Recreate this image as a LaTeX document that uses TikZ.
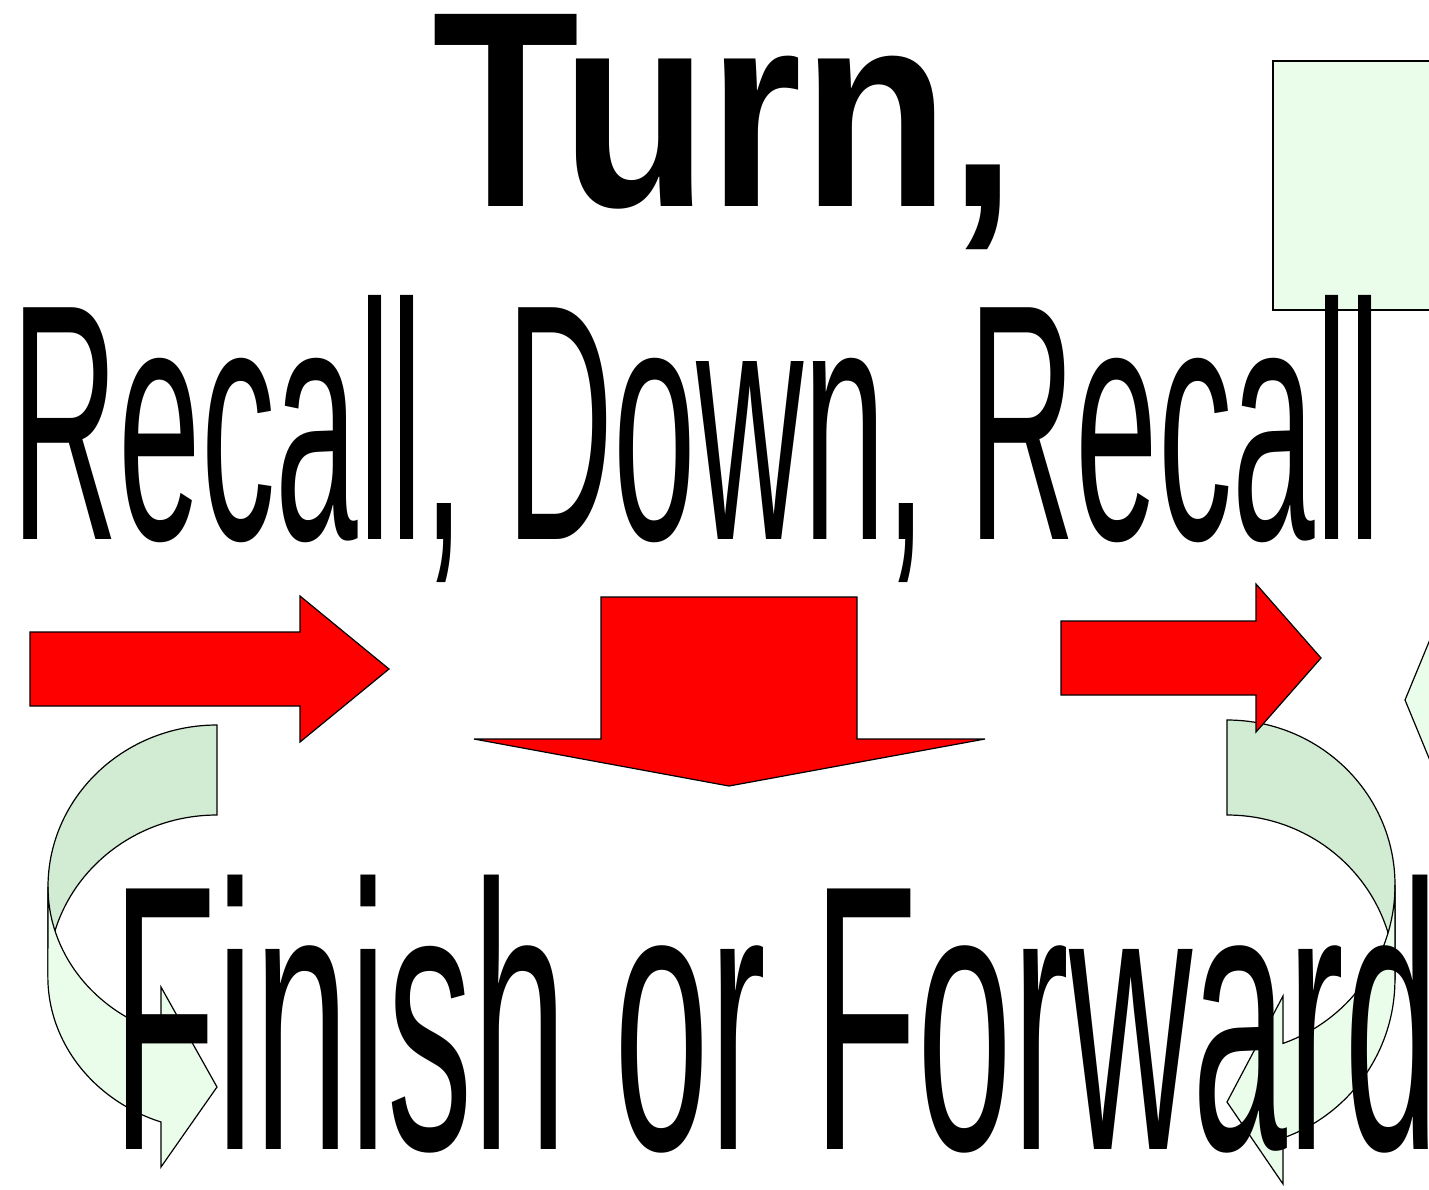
\documentclass[tikz,border=0pt]{standalone}
\usepackage{fontspec}
\setmainfont{Liberation Sans}
\usepackage{graphicx}
\usepackage{xcolor}
\definecolor{backgreen}{RGB}{210,235,211}
\definecolor{frontgreen}{RGB}{234,253,234}

\begin{document}
\begin{tikzpicture}[
  x=0.5pt, y=0.5pt, yscale=-1,
  redarrow/.style={fill=red, draw=black, line width=0.6pt, line join=miter},
  bandback/.style={fill=backgreen, draw=black, line width=0.6pt},
  bandfront/.style={fill=frontgreen, draw=black, line width=0.6pt},
  bigword/.style={inner sep=0pt, anchor=base west}
]
\useasboundingbox (0,0) rectangle (1429,1189);

\begin{scope}
\clip (0,0) rectangle (1429,1189);

% -------- FORMAS VERDES À DIREITA --------
\draw[bandfront] (1273,61) rectangle (1480,310);
\draw[bandfront] (1405,700) -- (1450,591) -- (1500,700) -- (1450,809) -- cycle;

% -------- SETA CURVA ESQUERDA --------
\draw[bandback] (217,725) arc[start angle=270, end angle=180, x radius=84.5pt, y radius=81pt]
  -- (48,977) arc[start angle=180, end angle=270, x radius=84.5pt, y radius=81pt] -- cycle;
\draw[bandfront] (48,887) arc[start angle=180, end angle=109.3, x radius=84.5pt, y radius=77pt]
  -- (161,987) -- (217,1087) -- (161,1167) -- (161,1122)
  arc[start angle=109.3, end angle=180, x radius=84.5pt, y radius=77pt] -- cycle;

% -------- SETA CURVA DIREITA --------
\draw[bandback] (1227,720) arc[start angle=270, end angle=360, x radius=84pt, y radius=82.5pt]
  -- (1395,980) arc[start angle=0, end angle=-90, x radius=84pt, y radius=82.5pt] -- cycle;
\draw[bandfront] (1395,885) arc[start angle=0, end angle=70.5, x radius=84pt, y radius=84pt]
  -- (1283,996) -- (1227,1102) -- (1283,1184) -- (1283,1138)
  arc[start angle=70.5, end angle=0, x radius=84pt, y radius=84pt] -- cycle;

% -------- SETAS VERMELHAS --------
\draw[redarrow] (30,632) -- (300,632) -- (300,596) -- (389,669) -- (300,742) -- (300,706) -- (30,706) -- cycle;
\draw[redarrow] (601,597) -- (857,597) -- (857,739) -- (985,739) -- (729,786) -- (474,739) -- (601,739) -- cycle;
\draw[redarrow] (1061,621) -- (1256,621) -- (1256,584) -- (1321,658) -- (1256,732) -- (1256,695) -- (1061,695) -- cycle;
\end{scope}

% -------- TEXTOS --------
\node[bigword] (turn) at (432,206) {\resizebox{292pt}{96pt}{\bfseries Turn,}};
\node[bigword] (recall) at (11,539) {\resizebox{685pt}{122pt}{Recall, Down, Recall}};
\node[bigword] (finish) at (112,1149) {\resizebox{663pt}{137pt}{Finish or Forward}};

\end{tikzpicture}
\end{document}
